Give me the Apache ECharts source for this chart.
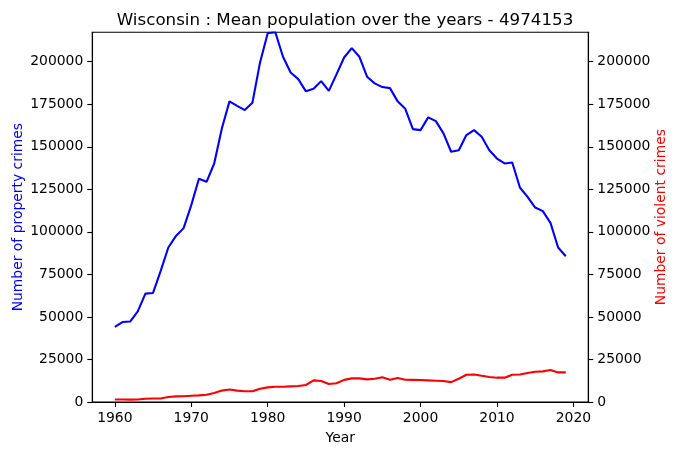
<!DOCTYPE html>
<html>
<head>
<meta charset="utf-8">
<script src="https://cdn.jsdelivr.net/npm/echarts@6/dist/echarts.min.js"></script>
<style>
html,body{margin:0;padding:0;background:#fff;}
#chart{width:679px;height:455px;}
</style>
</head>
<body>
<div id="chart"></div>
<script>
var years = [];
for (var y = 1960; y <= 2019; y++) years.push(y);

var propertyCrimes = [
  44100, 47000, 47300, 53300, 63700, 64100, 77100, 90800, 97600, 102200,
  115700, 131200, 129400, 140200, 160800, 176700, 174100, 171600, 175900, 199600,
  216800, 217300, 202900, 193700, 189800, 182600, 184100, 188600, 182900, 192600,
  202500, 208000, 202900, 191200, 187300, 185100, 184500, 176700, 172300, 160400,
  159800, 167300, 165100, 157900, 147100, 148000, 156900, 159800, 155900, 148000,
  143100, 140200, 140800, 126100, 120600, 114300, 112200, 105300, 90800, 85700
];

var violentCrimes = [
  1500, 1500, 1400, 1500, 1900, 2100, 2100, 2900, 3300, 3400,
  3700, 3900, 4300, 5300, 6700, 7300, 6700, 6300, 6300, 7800,
  8600, 9000, 9000, 9200, 9400, 10000, 12700, 12300, 10600, 11000,
  13000, 13900, 13900, 13300, 13700, 14500, 13100, 14100, 13100, 13000,
  12900, 12700, 12500, 12300, 11700, 13700, 16000, 16200, 15400, 14700,
  14300, 14300, 16000, 16200, 17000, 17800, 18000, 18800, 17400, 17400
];

var xTicks = [1960, 1970, 1980, 1990, 2000, 2010, 2020];
var yTicks = [0, 25000, 50000, 75000, 100000, 125000, 150000, 175000, 200000];

var titleText = 'Wisconsin : Mean population over the years - 4974153';
var yMax = 217300;

var font = 'DejaVu Sans';
var chart = echarts.init(document.getElementById('chart'), null, {renderer: 'canvas'});

function plain(v) { return String(Math.round(v)); }

function yAxisCfg(pos, name, color, gap) {
  return {
    type: 'value',
    position: pos,
    min: 0,
    max: yMax,
    name: name,
    nameLocation: 'middle',
    nameGap: gap,
    nameRotate: 90,
    nameMoveOverlap: false,
    nameTextStyle: {color: color, fontFamily: font, fontSize: 13.9},
    axisLine: {show: true, onZero: false, lineStyle: {color: '#000', width: 1.1}},
    axisTick: {show: true, inside: false, length: 5, lineStyle: {color: '#000', width: 1.1}, customValues: yTicks},
    axisLabel: {show: true, color: '#000', fontFamily: font, fontSize: 13.9, margin: 9, customValues: yTicks, formatter: plain},
    splitLine: {show: false}
  };
}

chart.setOption({
  animation: false,
  backgroundColor: '#fff',
  title: {
    text: titleText,
    left: 340,
    textAlign: 'center',
    top: 7,
    textStyle: {fontFamily: font, fontSize: 16.7, fontWeight: 'normal', color: '#000'}
  },
  grid: {
    left: 92.3, right: 90.7, top: 32.3, bottom: 53,
    containLabel: false,
    outerBoundsMode: 'none',
    show: true, borderColor: '#000', borderWidth: 1.1, backgroundColor: 'transparent'
  },
  xAxis: {
    type: 'value',
    min: 1957.05,
    max: 2021.95,
    name: 'Year',
    nameLocation: 'middle',
    nameGap: 29,
    nameMoveOverlap: false,
    nameTextStyle: {color: '#000', fontFamily: font, fontSize: 13.9},
    axisLine: {show: true, onZero: false, lineStyle: {color: '#000', width: 1.1}},
    axisTick: {show: true, length: 5, lineStyle: {color: '#000', width: 1.1}, customValues: xTicks},
    axisLabel: {show: true, color: '#000', fontFamily: font, fontSize: 13.9, margin: 9, customValues: xTicks, formatter: plain},
    splitLine: {show: false}
  },
  yAxis: [
    yAxisCfg('left', 'Number of property crimes', '#0000ff', 67),
    yAxisCfg('right', 'Number of violent crimes', '#ff0000', 66)
  ],
  series: [
    {
      type: 'line',
      yAxisIndex: 0,
      data: years.map(function (yr, i) { return [yr, propertyCrimes[i]]; }),
      showSymbol: false,
      lineStyle: {color: '#0000ff', width: 2.1},
      itemStyle: {color: '#0000ff'},
      clip: true
    },
    {
      type: 'line',
      yAxisIndex: 1,
      data: years.map(function (yr, i) { return [yr, violentCrimes[i]]; }),
      showSymbol: false,
      lineStyle: {color: '#ff0000', width: 2.1},
      itemStyle: {color: '#ff0000'},
      clip: true
    }
  ]
});
</script>
</body>
</html>
